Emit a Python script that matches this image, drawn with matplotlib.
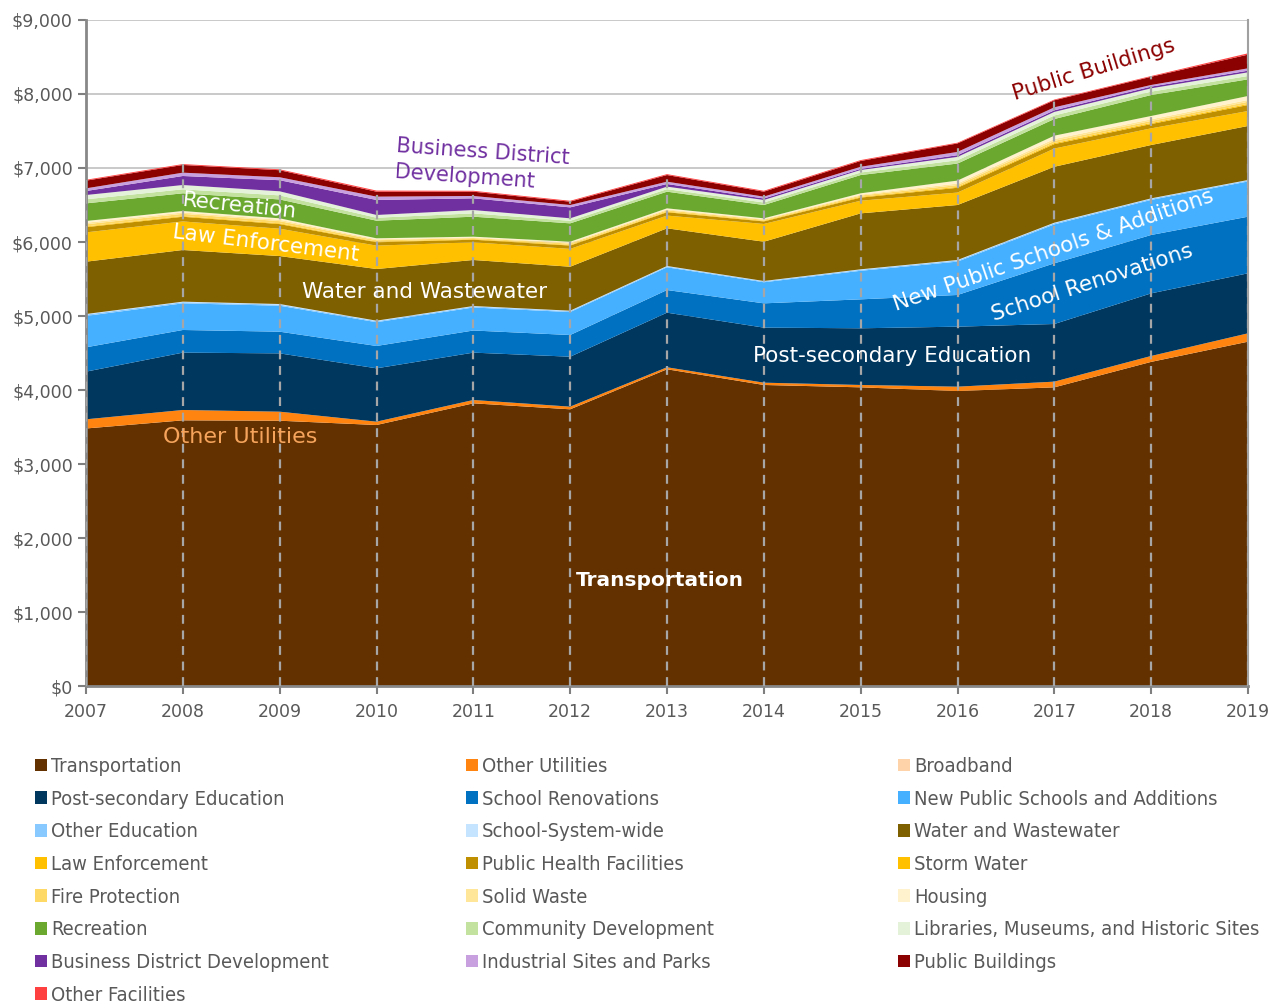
import numpy as np
import matplotlib
matplotlib.use("Agg")
import matplotlib.pyplot as plt
from matplotlib.patches import Patch
from matplotlib.ticker import FuncFormatter

plt.rcParams['font.family'] = 'DejaVu Sans'

years = list(range(2007, 2020))

# values in $ millions (bottom of stack first)
transportation = [3480, 3590, 3585, 3527, 3820, 3739, 4280, 4068, 4036, 3986, 4036, 4380, 4653]
other_utilities = [124, 140, 122, 45, 45, 36, 27, 31, 32, 59, 77, 80, 113]
broadband = [0, 0, 0, 0, 0, 0, 0, 0, 0, 0, 0, 0, 0]
post_secondary = [644, 775, 788, 721, 640, 675, 738, 744, 766, 811, 779, 846, 811]
school_renovations = [329, 306, 293, 302, 299, 293, 306, 328, 391, 428, 820, 789, 765]
new_schools = [424, 360, 351, 321, 311, 310, 307, 285, 386, 451, 526, 474, 476]
other_education = [18, 16, 15, 14, 14, 13, 12, 12, 14, 15, 16, 15, 14]
school_system = [8, 7, 8, 7, 6, 6, 6, 5, 6, 7, 7, 6, 6]
water = [707, 698, 648, 698, 622, 594, 509, 531, 756, 743, 756, 721, 730]
law_enforcement = [396, 386, 370, 316, 239, 241, 172, 240, 171, 168, 246, 225, 202]
public_health = [70, 63, 62, 45, 35, 45, 45, 34, 42, 65, 60, 58, 81]
storm_water = [10, 10, 10, 8, 8, 8, 8, 8, 10, 12, 14, 14, 14]
fire_protection = [30, 30, 30, 20, 14, 18, 18, 14, 18, 25, 30, 28, 30]
solid_waste = [20, 18, 18, 12, 9, 12, 12, 9, 12, 20, 25, 22, 24]
housing = [24, 20, 20, 14, 10, 14, 15, 11, 18, 40, 45, 45, 54]
recreation = [238, 239, 255, 238, 270, 248, 225, 180, 247, 230, 225, 283, 225]
community_dev = [55, 54, 55, 40, 45, 34, 34, 34, 34, 45, 48, 46, 45]
libraries = [58, 58, 55, 37, 45, 34, 34, 34, 34, 45, 48, 45, 50]
business_district = [54, 122, 150, 203, 158, 148, 36, 20, 15, 23, 22, 23, 22]
industrial = [36, 45, 40, 45, 32, 32, 31, 25, 29, 44, 40, 22, 32]
public_buildings = [104, 104, 95, 67, 58, 45, 90, 67, 78, 115, 95, 111, 185]
other_facilities = [12, 12, 12, 15, 12, 12, 12, 12, 12, 10, 10, 10, 18]

names = ["Transportation", "Other Utilities", "Broadband",
         "Post-secondary Education", "School Renovations", "New Public Schools and Additions",
         "Other Education", "School-System-wide", "Water and Wastewater",
         "Law Enforcement", "Public Health Facilities", "Storm Water",
         "Fire Protection", "Solid Waste", "Housing",
         "Recreation", "Community Development", "Libraries, Museums, and Historic Sites",
         "Business District Development", "Industrial Sites and Parks", "Public Buildings",
         "Other Facilities"]
series = [transportation, other_utilities, broadband,
          post_secondary, school_renovations, new_schools,
          other_education, school_system, water,
          law_enforcement, public_health, storm_water,
          fire_protection, solid_waste, housing,
          recreation, community_dev, libraries,
          business_district, industrial, public_buildings,
          other_facilities]
colors = ["#633100", "#FF8410", "#FFD3AA",
          "#00375F", "#0070C0", "#45B0FF",
          "#88C9FF", "#C5E4FF", "#7F6000",
          "#FFC000", "#BF8F00", "#FFC000",
          "#FFD966", "#FFE699", "#FFF2CC",
          "#6AA82F", "#C3E29F", "#E4F2D9",
          "#7030A0", "#C8A0E0", "#8B0000",
          "#FF4040"]

fig = plt.figure(figsize=(12.8, 10.05), dpi=100)
ax = fig.add_axes([86/1280, 1-686/1005, (1248-86)/1280, (686-20)/1005])

ax.stackplot(years, *series, colors=colors, linewidth=0, zorder=2)

totals = np.sum(np.array(series), axis=0)
ax.vlines(years, 0, totals, colors="#A6A6A6", linestyles=(0, (4, 3)), lw=1.6, zorder=3)

ax.set_xlim(2007, 2019)
ax.set_ylim(0, 9000)
ax.set_xticks(years)
ax.set_yticks(range(0, 9001, 1000))
ax.yaxis.set_major_formatter(FuncFormatter(lambda v, p: "${:,.0f}".format(v)))
ax.yaxis.grid(True, color="#C0C0C0", lw=1.2)
ax.set_axisbelow(True)
ax.tick_params(colors="#7F7F7F", labelcolor="#595959", labelsize=12.5, length=6, width=1.5)
ax.tick_params(axis="x", pad=6)
for s in ["left", "bottom"]:
    ax.spines[s].set_color("#888888")
    ax.spines[s].set_linewidth(2)
ax.spines["right"].set_color("#A0A0A0")
ax.spines["right"].set_linewidth(1.5)
ax.spines["top"].set_visible(False)

# labels inside the chart
fs = 15.5
ax.text(2012.93, 1432, "Transportation", color="white", fontsize=14.5, fontweight="bold",
        ha="center", va="center", zorder=5)
ax.text(2008.59, 3365, "Other Utilities", color="#F6A45C", fontsize=16,
        ha="center", va="center", zorder=5)
ax.text(2015.32, 4459, "Post-secondary Education", color="white", fontsize=fs,
        ha="center", va="center", zorder=5)
ax.text(2010.50, 5324, "Water and Wastewater", color="white", fontsize=fs,
        ha="center", va="center", zorder=5)
ax.text(2008.86, 5986, "Law Enforcement", color="white", fontsize=fs, rotation=-7,
        ha="center", va="center", rotation_mode="anchor", zorder=5)
ax.text(2008.59, 6486, "Recreation", color="white", fontsize=fs, rotation=-6,
        ha="center", va="center", rotation_mode="anchor", zorder=5)
ax.text(2016.99, 5892, "New Public Schools & Additions", color="white", fontsize=fs,
        rotation=19, ha="center", va="center", rotation_mode="anchor", zorder=5)
ax.text(2017.39, 5446, "School Renovations", color="white", fontsize=fs,
        rotation=18, ha="center", va="center", rotation_mode="anchor", zorder=5)
ax.text(2011.09, 7041, "Business District\nDevelopment", color="#7030A0", fontsize=15,
        rotation=-4, ha="center", va="center", multialignment="left",
        rotation_mode="anchor", linespacing=1.4, zorder=5)
ax.text(2017.41, 8324, "Public Buildings", color="#8B0000", fontsize=fs,
        rotation=17, ha="center", va="center", rotation_mode="anchor", zorder=5)

# legend, three columns filled row by row
col_x = [35, 466, 898]
for c in range(3):
    idx = list(range(c, len(names), 3))
    handles = [Patch(facecolor=colors[i], edgecolor="none") for i in idx]
    labels = [names[i] for i in idx]
    leg = fig.legend(handles, labels, loc="upper left",
                     bbox_to_anchor=(col_x[c]/1280, 1-757/1005),
                     frameon=False, handlelength=0.6, handleheight=0.6,
                     handletextpad=0.2, labelspacing=0.68, borderpad=0, borderaxespad=0,
                     prop={"stretch": "condensed", "size": 14.5})
    for t in leg.get_texts():
        t.set_color("#595959")

fig.savefig("out.png", dpi=100)
